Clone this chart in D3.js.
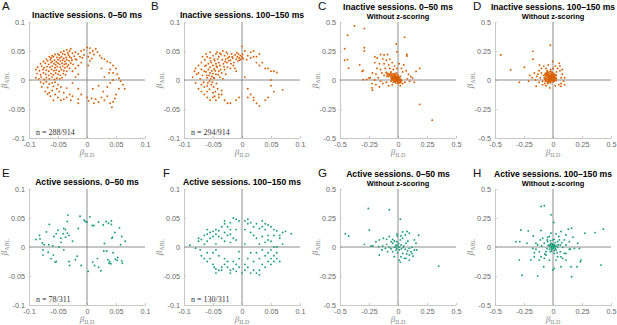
<!DOCTYPE html>
<html>
<head>
<meta charset="utf-8">
<script src="https://cdn.jsdelivr.net/npm/d3@7"></script>
<style>
  body { margin: 0; background: #fff; }
  svg { display: block; font-family: "Liberation Sans", Arial, sans-serif; }
</style>
</head>
<body>
<script>
// tick values and labels
var ticksZ = [-0.1, -0.05, 0, 0.05, 0.1];
var tickLabelsZ = ["-0.1", "-0.05", "0", "0.05", "0.1"];
var ticksRaw = [-0.5, -0.25, 0, 0.25, 0.5];
var tickLabelsRaw = ["-0.5", "-0.25", "0", "0.25", "0.5"];

var letters = ["A", "B", "C", "D", "E", "F", "G", "H"];
var titles = ["Inactive sessions. 0–50 ms", "Inactive sessions. 100–150 ms",
              "Inactive sessions. 0–50 ms", "Inactive sessions. 100–150 ms",
              "Active sessions. 0–50 ms", "Active sessions. 100–150 ms",
              "Active sessions. 0–50 ms", "Active sessions. 100–150 ms"];
var subtitles = ["", "", "Without z-scoring", "Without z-scoring",
                 "", "", "Without z-scoring", "Without z-scoring"];
var counts = ["n = 288/914", "n = 294/914", "", "", "n = 78/311", "n = 130/311", "", ""];

// A: inactive, 0-50 ms, z-scored (beta ILD, beta ABL)
var inactiveEarlyZ = [
  [-0.045,0.048],[-0.04,0.05],[-0.035,0.052],[-0.03,0.05],[-0.028,0.054],[-0.05,0.045],[-0.033,0.047],
  [-0.06,0.042],[-0.055,0.044],[-0.048,0.043],[-0.042,0.045],[-0.038,0.044],[-0.032,0.043],[-0.025,0.046],[-0.02,0.048],
  [-0.07,0.036],[-0.065,0.04],[-0.062,0.038],[-0.058,0.04],[-0.052,0.039],[-0.047,0.038],[-0.044,0.04],[-0.04,0.037],[-0.036,0.039],[-0.03,0.04],[-0.027,0.038],[-0.022,0.041],
  [-0.075,0.032],[-0.068,0.033],[-0.063,0.035],[-0.06,0.032],[-0.056,0.034],[-0.053,0.031],[-0.05,0.035],[-0.046,0.033],[-0.042,0.034],[-0.038,0.032],[-0.035,0.035],[-0.031,0.033],[-0.026,0.034],[-0.02,0.036],
  [-0.08,0.028],[-0.072,0.029],[-0.066,0.027],[-0.062,0.03],[-0.057,0.028],[-0.054,0.026],[-0.05,0.029],[-0.047,0.027],[-0.043,0.029],[-0.039,0.027],[-0.036,0.028],[-0.032,0.026],[-0.028,0.029],[-0.024,0.027],
  [-0.085,0.022],[-0.078,0.024],[-0.074,0.021],[-0.069,0.023],[-0.064,0.022],[-0.06,0.024],[-0.055,0.021],[-0.051,0.023],[-0.046,0.022],[-0.042,0.024],[-0.038,0.021],[-0.034,0.023],[-0.03,0.02],
  [-0.088,0.018],[-0.082,0.016],[-0.076,0.018],[-0.07,0.017],[-0.066,0.015],[-0.061,0.018],[-0.057,0.016],[-0.053,0.017],[-0.048,0.015],[-0.044,0.018],[-0.04,0.016],[-0.035,0.015],
  [-0.086,0.011],[-0.08,0.009],[-0.075,0.012],[-0.071,0.01],[-0.066,0.008],[-0.062,0.011],[-0.058,0.009],[-0.054,0.012],[-0.05,0.01],[-0.046,0.008],[-0.041,0.011],[-0.037,0.009],
  [-0.088,0.004],[-0.083,0.002],[-0.079,0.005],[-0.074,0.001],[-0.07,0.004],[-0.065,0.002],[-0.06,0.005],[-0.056,0.001],[-0.052,0.003],[-0.047,0.002],[-0.043,0.004],
  [-0.08,-0.004],[-0.075,-0.006],[-0.07,-0.003],[-0.065,-0.007],[-0.06,-0.005],[-0.055,-0.004],[-0.05,-0.008],
  [-0.078,-0.012],[-0.068,-0.013],[-0.058,-0.011],[-0.052,-0.015],[-0.045,-0.012],[-0.035,-0.014],
  [-0.072,-0.02],[-0.065,-0.022],[-0.06,-0.018],[-0.055,-0.025],[-0.048,-0.02],[-0.04,-0.022],[-0.05,-0.03],[-0.045,-0.035],[-0.04,-0.033],[-0.035,-0.03],[-0.063,-0.028],[-0.068,-0.024],[-0.03,-0.025],
  [-0.015,0.045],[-0.01,0.05],[-0.005,0.052],[0,0.056],[0.005,0.055],[0.01,0.05],[0.015,0.054],[0.018,0.048],[0.012,0.044],[0.005,0.047],[-0.005,0.043],[-0.012,0.04],[-0.018,0.035],[-0.008,0.038],[0.002,0.04],[0.008,0.037],
  [-0.015,0.025],[-0.01,0.03],[-0.02,0.02],[-0.025,0.015],[-0.015,0.01],[-0.02,0.005],[-0.025,-0.005],[-0.015,-0.015],[-0.01,-0.025],[0.002,0.025],[0.005,0.033],
  [0.022,0.042],[0.025,0.038],[0.03,0.036],[0.035,0.032],[0.04,0.03],[0.045,0.025],[0.05,0.02],[0.045,0.012],[0.04,0.018],[0.052,0.01],[0.055,0.003],[0.058,-0.002],[0.062,-0.008],[0.065,-0.015],
  [0.055,-0.015],[0.05,-0.025],[0.048,-0.032],[0.045,-0.038],[0.043,-0.047],[0.04,-0.04],[0.035,-0.028],[0.03,-0.035],[0.025,-0.03],[0.02,-0.038],[0.015,-0.033],[0.012,-0.04],[0.008,-0.032],[0.003,-0.036],[0,-0.03],
  [0.028,-0.02],[0.035,-0.012],[0.03,0.005],[0.038,0.012],[0.025,0.02],[0.02,-0.01],[0.04,-0.005],[0.045,0],[0.01,-0.015],
  [-0.015,-0.033],[-0.015,-0.04],[-0.025,-0.028],[-0.028,-0.035],[-0.058,-0.035]
];

// B: inactive, 100-150 ms, z-scored
var inactiveLateZ = [
  [-0.08,0.02],[-0.085,0.005],[-0.08,-0.005],[-0.075,-0.015],[-0.07,-0.02],[-0.065,-0.025],[-0.06,-0.03],[-0.055,-0.035],[-0.05,-0.03],[-0.045,-0.035],[-0.04,-0.03],[-0.035,-0.025],[-0.03,-0.035],
  [-0.075,0.012],[-0.072,0.002],[-0.07,0.018],[-0.068,0.008],[-0.066,-0.004],[-0.064,0.024],[-0.062,0.014],[-0.06,0.004],[-0.06,-0.01],[-0.058,0.028],[-0.058,0.018],
  [-0.057,0.008],[-0.056,-0.002],[-0.056,-0.016],[-0.055,0.022],[-0.055,0.012],[-0.054,0.002],[-0.053,0.03],[-0.053,-0.008],[-0.052,0.016],[-0.052,0.006],[-0.051,-0.004],[-0.05,0.025],[-0.05,0.011],
  [-0.049,-0.012],[-0.048,0.019],[-0.048,0.003],[-0.047,0.033],[-0.046,-0.02],[-0.045,0.028],[-0.045,0.01],[-0.044,-0.006],[-0.043,0.022],[-0.042,0.036],[-0.04,0.015],[-0.04,0.03],[-0.038,0.025],
  [-0.064,0.035],[-0.07,0.03],[-0.075,0.025],[-0.068,0.04],[-0.06,0.04],[-0.055,0.038],[-0.05,0.042],[-0.045,0.045],[-0.04,0.04],[-0.036,0.044],[-0.034,0.035],[-0.032,0.028],[-0.03,0.042],[-0.028,0.036],
  [-0.026,0.03],[-0.025,0.045],[-0.022,0.04],[-0.02,0.034],[-0.018,0.045],[-0.016,0.038],[-0.014,0.03],[-0.012,0.043],[-0.01,0.036],[-0.008,0.04],[-0.006,0.045],[-0.005,0.038],[-0.004,0.034],
  [-0.003,0.042],[-0.002,0.036],[0,0.04],[0.001,0.044],[0.002,0.037],[-0.007,0.033],[-0.009,0.047],[-0.015,0.025],[-0.02,0.02],[-0.025,0.022],[-0.03,0.018],[-0.035,0.012],[-0.038,0.005],
  [-0.028,0.01],[-0.033,0.002],[-0.042,-0.015],[-0.04,-0.025],[-0.035,-0.018],[-0.05,-0.022],[-0.047,-0.028],[-0.06,-0.02],[-0.065,-0.012],[-0.07,-0.008],[-0.078,0.01],[-0.082,0.015],
  [-0.062,0.045],[-0.055,0.048],[-0.048,0.036],[-0.043,0.048],[-0.038,0.046],[-0.033,0.05],[-0.027,0.048],[-0.024,0.038],[-0.019,0.028],[-0.012,0.02],[-0.01,0.015],
  [0,0.058],[0.005,0.05],[0.015,0.048],[0.02,0.05],[0.03,0.045],[0.01,0.042],[0.008,0.035],[0.015,0.038],[0.025,0.04],
  [0.02,0.04],[0.025,0.03],[0.03,0.025],[0.045,0.02],[0.05,0.015],[0.055,0.015],[0.06,0.013],[0.05,0],[0.05,-0.01],[0.055,-0.02],[0.07,-0.017],[0.045,-0.03],[0.04,-0.035],
  [0.03,-0.045],[0.025,-0.04],[0.02,-0.035],[0.02,-0.03],[0.015,-0.025],[0.01,-0.015],[0.01,-0.03],[-0.005,-0.03],[-0.01,-0.035],[-0.02,-0.04],[-0.025,-0.04],[0.005,0.005],[0.035,0.03],[0.04,0.02],
  [-0.065,0.015],[-0.062,0.025],[-0.059,-0.005],[-0.061,0.008],[-0.054,0.033],[-0.049,0.004],[-0.046,0.016],[-0.044,0.024],[-0.041,0.009],[-0.037,0.018],[-0.031,0.023],[-0.029,0.032],[-0.023,0.033],[-0.017,0.04]
];

// C: inactive, 0-50 ms, without z-scoring
var inactiveEarlyRaw = [
  [-0.375,0.466],[-0.29,0.443],[-0.435,0.386],[-0.46,0.27],[-0.46,0.17],[-0.435,0.176],[-0.426,0.102],[-0.29,0.278],[-0.29,0.25],[0.057,0.369],[-0.014,0.31],[-0.009,0.244],
  [-0.33,0.13],[-0.3,0.082],[-0.31,0.074],[-0.25,0.017],[-0.3,0.003],[-0.224,-0.031],[-0.224,-0.068],[-0.22,-0.088],[0.187,-0.21],[0.295,-0.346],[0.077,0.22],[0.077,0.207],[0.187,0.1],[0.156,0.074],[0.125,0.017],
  [-0.2,0.2],[-0.18,0.19],[-0.15,0.22],[-0.12,0.215],[-0.09,0.22],[-0.13,0.18],[-0.1,0.17],[-0.07,0.18],[-0.2,0.15],[-0.16,0.14],[-0.12,0.14],[-0.08,0.13],[-0.05,0.15],[-0.03,0.12],[0.01,0.14],[0.03,0.1],[0.05,0.13],
  [-0.18,0.1],[-0.15,0.09],[-0.11,0.1],[-0.07,0.1],[-0.04,0.09],[-0.01,0.1],[0.04,0.07],[0.07,0.08],[0.09,0.05],[-0.22,0.06],[-0.19,0.05],[-0.14,0.06],[-0.1,0.065],[-0.06,0.07],[-0.12,0.04],
  [-0.17,0.02],[-0.2,0],[-0.15,-0.01],[-0.19,-0.04],[-0.13,-0.03],[-0.1,-0.02],[-0.08,-0.05],[-0.05,-0.04],[0.02,-0.05],[0.04,-0.03],[0.06,-0.02],[0.08,0.01],[0.1,-0.01],[0.14,-0.02],[0.11,0.03],[-0.24,0.02],[-0.27,0.005],[-0.16,-0.06],
  [-0.1,0.06],[-0.09,0.05],[-0.08,0.055],[-0.07,0.05],[-0.06,0.06],[-0.095,0.035],[-0.085,0.03],[-0.075,0.04],[-0.065,0.035],[-0.055,0.045],[-0.045,0.05],[-0.035,0.055],[-0.025,0.05],[-0.015,0.06],[-0.005,0.045],
  [-0.05,0.03],[-0.04,0.035],[-0.03,0.04],[-0.02,0.035],[-0.01,0.03],[0,0.035],[0.01,0.025],[0.02,0.03],[-0.06,0.02],[-0.05,0.015],[-0.045,0.025],[-0.035,0.02],[-0.03,0.025],[-0.025,0.015],[-0.02,0.02],
  [-0.015,0.025],[-0.01,0.015],[-0.005,0.02],[0,0.01],[0.005,0.02],[0.015,0.01],[0.025,0.005],[-0.055,0.005],[-0.045,0],[-0.04,0.01],[-0.03,0.005],[-0.025,0],[-0.02,0.008],[-0.015,0.003],[-0.01,-0.003],
  [-0.005,0.005],[0.005,0],[0.01,-0.005],[0.02,-0.01],[0.03,-0.005],[-0.035,-0.01],[-0.025,-0.015],[-0.015,-0.01],[-0.005,-0.015],[0.005,-0.02],[0.015,-0.025],[-0.02,-0.025],[-0.04,-0.02],[-0.06,-0.01],[0,-0.03],
  [0.025,-0.02],[-0.03,0.012],[-0.012,0.01],[-0.028,0.03],[-0.018,0.012],[-0.008,0.008],[0.002,0.015],[-0.022,0.005],[-0.038,0.015],[-0.048,0.008]
];

// D: inactive, 100-150 ms, without z-scoring
var inactiveLateRaw = [
  [-0.023,0.3],[-0.173,0.247],[-0.173,0.179],[-0.45,0.216],[-0.366,0.088],[-0.247,0.11],[-0.29,-0.02],[-0.145,-0.054],[-0.028,-0.068],[0.068,-0.054],[-0.003,0.159],[0.054,0.145],[-0.116,0.13],
  [-0.2,0.04],[-0.18,0.02],[-0.16,0.06],[-0.14,0.03],[-0.12,0.08],[-0.1,0.1],[-0.08,0.12],[-0.06,0.1],[-0.04,0.13],[0.02,0.12],[0.04,0.1],[0.06,0.08],[0.08,0.05],[0.1,0.02],
  [0.09,-0.01],[0.07,-0.03],[0.05,-0.04],[0.02,-0.05],[-0.06,-0.05],[-0.09,-0.04],[-0.12,-0.02],[-0.15,0],[-0.13,0.05],[-0.1,0.06],[-0.11,0.02],[-0.09,-0.01],[0.08,0.09],[0.06,0.12],
  [-0.05,0.08],[0,0.1],[-0.02,0.09],[0.03,0.07],[0.07,0.02],[-0.21,-0.01],[0.1,-0.04],[-0.07,-0.03],
  [-0.08,0.04],[-0.07,0.05],[-0.06,0.06],[-0.05,0.07],[-0.04,0.065],[-0.03,0.07],[-0.02,0.075],[-0.01,0.065],[0,0.06],[0.01,0.05],[0.02,0.045],[0.03,0.04],
  [-0.075,0.02],[-0.065,0.03],[-0.055,0.04],[-0.045,0.05],[-0.035,0.045],[-0.025,0.055],[-0.015,0.05],[-0.005,0.045],[0.005,0.04],[0.015,0.03],[0.025,0.02],
  [-0.07,0.005],[-0.06,0.015],[-0.05,0.025],[-0.04,0.03],[-0.03,0.035],[-0.02,0.04],[-0.01,0.035],[0,0.03],[0.01,0.02],[0.02,0.01],
  [-0.065,-0.01],[-0.055,0],[-0.045,0.01],[-0.035,0.015],[-0.025,0.02],[-0.015,0.025],[-0.005,0.02],[0.005,0.01],[0.015,0],[0.025,-0.005],
  [-0.05,-0.015],[-0.04,-0.005],[-0.03,0],[-0.02,0.005],[-0.01,0.01],[0,0],[0.01,-0.01],[-0.04,-0.02],[-0.03,-0.015],[-0.02,-0.01],[-0.01,-0.005],[0,-0.015],[-0.02,-0.025],
  [-0.025,0.01],[-0.015,0.015],[-0.035,0.025],[-0.028,0.028],[-0.018,0.03],[-0.008,0.025],[-0.012,0.005],[-0.032,0.008],[-0.042,0.04],[-0.052,0.055],[0.008,0.032],[-0.06,0.045],[0.03,0.01],[-0.045,-0.03]
];

// E: active, 0-50 ms, z-scored
var activeEarlyZ = [
  [-0.033,0.055],[-0.012,0.053],[0.005,0.052],[-0.065,0.039],[-0.034,0.044],[-0.003,0.044],[0,0.043],[0.012,0.037],[0.009,0.037],[0.02,0.043],[0.033,0.044],[0.037,0.041],[0.042,0.039],[0.056,0.033],
  [-0.015,0.032],[-0.04,0.032],[-0.037,0.03],[-0.05,0.029],[-0.053,0.023],[-0.041,0.023],[-0.034,0.024],[-0.031,0.02],[-0.037,0.017],[-0.057,0.018],[-0.045,0.015],[-0.082,0.02],[-0.081,0.014],
  [-0.088,0.013],[-0.077,0.007],[-0.074,0.004],[-0.066,0.004],[-0.059,0.002],[-0.048,0],[0.044,0.017],[0.043,0.015],[0.03,0.006],[0.058,0.004],[0.066,0.01],[-0.076,-0.005],[-0.076,-0.014],
  [-0.067,-0.009],[-0.058,-0.014],[-0.053,-0.025],[-0.055,-0.026],[-0.031,-0.025],[-0.03,-0.032],[-0.017,-0.016],[-0.01,-0.032],[0.002,-0.042],[0.01,-0.026],[0.013,-0.032],[0.02,-0.035],
  [0.024,-0.041],[0.036,-0.022],[0.039,-0.025],[0.038,-0.028],[0.041,-0.029],[0.049,-0.021],[0.052,-0.023],[0.06,-0.024],[0.061,-0.028],[0.053,-0.018],[0.029,-0.007],[0.034,-0.007],
  [-0.07,0.026],[-0.045,0.008],[0.048,0.025],[-0.02,-0.022],[0.06,0.018],[-0.025,0.01],[0.045,-0.01],[-0.062,-0.02],[0.018,-0.02],[-0.005,0.046],[0.042,0.045],[-0.04,-0.005],[0.028,0.038]
];

// F: active, 100-150 ms, z-scored
var activeLateZ = [
  [-0.015,0.05],[-0.01,0.048],[-0.005,0.045],[-0.02,0.042],[-0.03,0.04],[-0.025,0.035],[-0.02,0.03],[-0.035,0.035],[-0.04,0.028],[-0.045,0.03],[-0.05,0.027],[-0.055,0.025],[-0.06,0.022],
  [-0.065,0.02],[-0.045,0.022],[-0.05,0.018],[-0.04,0.018],[-0.035,0.015],[-0.03,0.025],[-0.025,0.02],[-0.02,0.022],[-0.015,0.015],[-0.01,0.03],[-0.07,0.013],[-0.075,0.01],[-0.06,0.01],
  [-0.055,0.015],[-0.065,0.005],[-0.09,0.003],[-0.072,-0.005],[-0.045,0.005],[-0.03,0.01],[-0.02,0.008],[-0.01,0.012],
  [0.005,0.045],[0.01,0.04],[0.015,0.042],[0.025,0.04],[0.035,0.045],[0.04,0.04],[0.045,0.038],[0.035,0.035],[0.03,0.032],[0.04,0.03],[0.05,0.035],[0.055,0.03],[0.06,0.028],[0.07,0.025],
  [0.075,0.027],[0.085,0.023],[0.065,0.02],[0.055,0.02],[0.045,0.02],[0.035,0.018],[0.025,0.015],[0.02,0.02],[0.015,0.025],[0.005,0.03],[0.05,0.01],[0.04,0.008],[0.03,0.005],[0.055,0],[0.02,0.035],[0.045,0.012],
  [-0.07,-0.015],[-0.065,-0.02],[-0.06,-0.025],[-0.05,-0.03],[-0.048,-0.035],[-0.045,-0.038],[-0.04,-0.04],[-0.035,-0.035],[-0.03,-0.03],[-0.025,-0.035],[-0.02,-0.04],[-0.02,-0.045],[-0.015,-0.038],
  [-0.01,-0.042],[-0.005,-0.035],[-0.035,-0.04],[-0.055,-0.02],[-0.05,-0.01],[-0.04,-0.015],[-0.03,-0.02],[-0.025,-0.025],[-0.06,-0.01],[-0.045,-0.005],[-0.01,-0.03],[-0.005,-0.02],[-0.015,-0.025],
  [0,-0.045],[0.005,-0.04],[0.01,-0.035],[0.015,-0.045],[0.02,-0.04],[0.025,-0.045],[0.03,-0.04],[0.035,-0.03],[0.04,-0.035],[0.045,-0.025],[0.05,-0.02],[0.055,-0.015],[0.06,-0.01],[0.055,-0.025],
  [0.05,-0.03],[0.065,-0.025],[0.04,-0.015],[0.03,-0.02],[0.02,-0.025],[0.01,-0.02],[0.005,-0.03],[0.045,-0.01],[0.035,-0.005],[0.025,-0.01],[0.015,-0.01],[0.06,0],[0.05,-0.005],
  [0.005,0.005],[-0.005,-0.008],[-0.075,0.015],[-0.08,-0.002],[0.065,0.015],[0.07,0.005],[-0.03,0.045],[0.01,0.048],[-0.045,-0.045],[0.03,-0.048],[0.06,-0.02],[-0.06,0.03]
];

// G: active, 0-50 ms, without z-scoring
var activeEarlyRaw = [
  [-0.256,0.332],[-0.075,0.321],[-0.247,0.147],[-0.454,0.113],[-0.425,0.095],[0.02,0.24],[-0.29,0.023],[-0.233,0.009],[-0.218,0.009],[0.35,-0.165],[0.178,0.101],[0.155,0.032],
  [0.141,-0.026],[0.121,-0.055],[0.098,-0.069],[0.069,-0.098],[0.011,-0.113],[0.078,0.133],[0.063,0.104],[0.098,0.118],[0.04,0.075],[-0.009,0.113],[-0.006,0.095],[-0.032,0.052],
  [-0.06,0.046],[-0.098,0.066],[-0.126,0.075],[-0.161,0.061],[-0.167,0.003],[-0.138,-0.026],[-0.161,-0.069],[-0.109,-0.012],[-0.075,-0.003],[-0.046,0.032],[-0.017,0.017],[0,0.012],
  [0.011,-0.003],[0.026,0.017],[0.046,-0.003],[0.063,-0.02],[0.083,-0.032],[0.098,-0.012],[0.112,-0.04],[0.04,-0.055],[0.026,-0.084],[-0.032,-0.084],[-0.046,-0.04],[-0.017,-0.026],
  [-0.075,0.09],[0.02,0.061],[0.069,0.032],[0.141,0.061],[0.098,-0.113],[0.055,-0.098],[0.011,-0.026],[-0.032,-0.003],[-0.011,0.046],[-0.046,0.066],[0.026,0.095],[0.121,-0.003],
  [0.161,-0.026],[-0.098,0.023],[-0.132,0.009],[-0.19,0.046],
  [-0.02,0.005],[0.005,0.03],[0.03,-0.015],[0.05,0.01],[-0.06,-0.015],[0.085,0.05],[0.13,-0.08],[-0.005,-0.05],[0.04,0.13],[-0.01,-0.01],[0.075,-0.06],[-0.09,-0.04],[0.02,-0.13]
];

// H: active, 100-150 ms, without z-scoring
var activeLateRaw = [
  [-0.103,0.35],[-0.075,0.355],[-0.017,0.277],[0.006,0.211],[-0.276,0.147],[-0.213,0.139],[-0.17,0.095],[-0.103,0.142],[-0.319,0.046],[-0.287,0.046],[-0.224,0.032],[-0.29,-0.113],
  [-0.267,-0.243],[-0.132,-0.249],[0.161,-0.257],[0.414,-0.156],[0.434,0.153],[0.362,0.124],[0.276,0.118],[0.227,-0.012],[0.241,-0.113],[0.236,-0.127],[0.207,-0.17],[0.132,0.153],
  [0.161,0.162],[0.172,0.084],[0.112,0.104],[0.069,0.133],[0.026,0.113],[-0.017,0.118],[0.098,0.061],[0.141,0.046],[0.141,-0.02],[0.112,-0.055],[0.069,-0.084],[0.04,-0.084],
  [0.011,-0.184],[0,-0.198],[-0.032,-0.113],[-0.075,-0.098],[-0.06,-0.069],[-0.103,-0.084],[-0.118,-0.04],[-0.147,-0.02],[-0.161,-0.049],[-0.175,-0.012],[-0.075,0.032],[-0.046,0.046],
  [-0.017,0.032],[0.006,0.017],[0.011,-0.003],[-0.006,-0.014],[0.026,-0.026],[0.04,-0.003],[0.063,0.017],[0.083,-0.003],[0.063,-0.04],[0.011,-0.055],[-0.023,-0.04],[-0.052,-0.012],
  [-0.032,0.009],[-0.098,0.009],[-0.132,0.017],[-0.089,0.075],[-0.046,0.084],[0.011,0.066],[0.04,0.046],[0.075,0.038],[0.112,0.017],[0.149,-0.02],[0.026,-0.113],[0.083,-0.098],
  [0.112,-0.113],[-0.161,-0.084],[-0.19,-0.113],[-0.118,-0.113],[-0.032,0.09],[0,0.061],[0.006,0],[-0.006,0.009],[0.017,0.009],[-0.011,-0.02],[0,0.026],[0.02,0.038],[-0.02,0.055],
  [-0.06,-0.04],[0.055,0.061],[-0.109,0.061],[-0.147,0.032],[0.098,-0.055],[0.184,-0.012],[0.213,0.032],[-0.08,-0.17],[0.069,-0.17],[0.155,-0.17],
  [0,0.005],[-0.01,0],[0.005,-0.008],[-0.015,0.012],[0.01,0.02],[-0.02,-0.005],[0.02,-0.015],[-0.005,0.02],[0.015,0.003],[-0.025,0.022],[0.03,0.01],[-0.03,-0.02],[0.012,-0.03],
  [-0.04,0.015],[0.045,0.02],[-0.012,-0.035],[0.035,-0.05],[-0.05,0.06],[0.05,0.09],[-0.07,-0.06]
];

var panelData = [inactiveEarlyZ, inactiveLateZ, inactiveEarlyRaw, inactiveLateRaw,
                 activeEarlyZ, activeLateZ, activeEarlyRaw, activeLateRaw];

var w = 617, h = 325;
var size = 116;                       // plot square
var lefts = [29, 184, 340, 495];      // left edge of each column
var tops = [22, 189];                 // top edge of each row
var letterX = [2, 151, 318, 473, 2, 163, 318, 473];
var orange = "#d95f02", teal = "#1b9e77";

var svg = d3.select("body").append("svg")
    .attr("width", w)
    .attr("height", h);

panelData.forEach(function(data, i) {
  var col = i % 4, row = Math.floor(i / 4);
  var raw = col >= 2;
  var x0 = lefts[col], y0 = tops[row];
  var ticks = raw ? ticksRaw : ticksZ;
  var labels = raw ? tickLabelsRaw : tickLabelsZ;
  var lim = raw ? 0.5 : 0.1;

  var xScale = d3.scaleLinear().domain([-lim, lim]).range([x0, x0 + size]);
  var yScale = d3.scaleLinear().domain([-lim, lim]).range([y0 + size, y0]);

  var g = svg.append("g");

  var xAxis = d3.axisBottom(xScale).tickValues(ticks)
      .tickFormat(function(d, k) { return labels[k]; })
      .tickSize(-2).tickSizeOuter(0).tickPadding(4);
  var yAxis = d3.axisLeft(yScale).tickValues(ticks)
      .tickFormat(function(d, k) { return labels[k]; })
      .tickSize(-2).tickSizeOuter(0).tickPadding(4);

  var gx = g.append("g")
      .attr("transform", "translate(0," + (y0 + size) + ")")
      .call(xAxis);
  var gy = g.append("g")
      .attr("transform", "translate(" + x0 + ",0)")
      .call(yAxis);
  [gx, gy].forEach(function(a) {
    a.select(".domain").attr("stroke", "#c8c8c8");
    a.selectAll(".tick line").attr("stroke", "#c8c8c8");
    a.selectAll(".tick text")
      .attr("fill", "#666")
      .attr("font-size", "7.2px")
      .attr("font-family", "Liberation Sans, Arial, sans-serif");
  });

  // zero lines
  g.append("line")
      .attr("x1", xScale(0)).attr("x2", xScale(0))
      .attr("y1", y0).attr("y2", y0 + size)
      .attr("stroke", "#8c8c8c").attr("stroke-width", 1);
  g.append("line")
      .attr("x1", x0).attr("x2", x0 + size)
      .attr("y1", yScale(0)).attr("y2", yScale(0))
      .attr("stroke", "#8c8c8c").attr("stroke-width", 1);

  g.selectAll("circle")
    .data(data)
    .enter()
    .append("circle")
    .attr("cx", function(d) { return xScale(d[0]); })
    .attr("cy", function(d) { return yScale(d[1]); })
    .attr("r", 0.95)
    .attr("fill", row === 0 ? orange : teal);

  // panel letter
  svg.append("text")
      .attr("x", letterX[i])
      .attr("y", y0 - 12)
      .attr("font-size", "11.5px")
      .attr("fill", "#111")
      .text(letters[i]);

  // title
  var cx = x0 + size / 2;
  if (subtitles[i]) {
    svg.append("text")
        .attr("x", cx).attr("y", y0 - 12.5)
        .attr("text-anchor", "middle")
        .attr("font-size", "8.6px").attr("font-weight", "bold")
        .text(titles[i]);
    svg.append("text")
        .attr("x", cx).attr("y", y0 - 3.5)
        .attr("text-anchor", "middle")
        .attr("font-size", "7.4px").attr("font-weight", "bold")
        .text(subtitles[i]);
  } else {
    svg.append("text")
        .attr("x", cx).attr("y", y0 - 4.5)
        .attr("text-anchor", "middle")
        .attr("font-size", "8.6px").attr("font-weight", "bold")
        .text(titles[i]);
  }

  // n count
  if (counts[i]) {
    svg.append("text")
        .attr("x", x0 + 7).attr("y", y0 + size - 3)
        .attr("font-family", "Liberation Serif, Times New Roman, serif")
        .attr("font-size", "8px")
        .attr("fill", "#333")
        .text(counts[i]);
  }

  // X axis label: beta ILD
  var xl = svg.append("text")
      .attr("x", cx).attr("y", y0 + size + 17)
      .attr("text-anchor", "middle")
      .attr("fill", "#888")
      .attr("font-family", "Liberation Serif, Times New Roman, serif")
      .attr("font-size", "9px");
  xl.append("tspan").attr("font-style", "italic").text("β");
  xl.append("tspan").attr("font-size", "6px").attr("dy", 1.5).text("ILD");

  // Y axis label: beta ABL
  var yl = svg.append("text")
      .attr("transform", "translate(" + (x0 - 22) + "," + (y0 + size / 2) + ") rotate(-90)")
      .attr("text-anchor", "middle")
      .attr("fill", "#888")
      .attr("font-family", "Liberation Serif, Times New Roman, serif")
      .attr("font-size", "9px");
  yl.append("tspan").attr("font-style", "italic").text("β");
  yl.append("tspan").attr("font-size", "6px").attr("dy", 1.5).text("ABL");
});
</script>
</body>
</html>
